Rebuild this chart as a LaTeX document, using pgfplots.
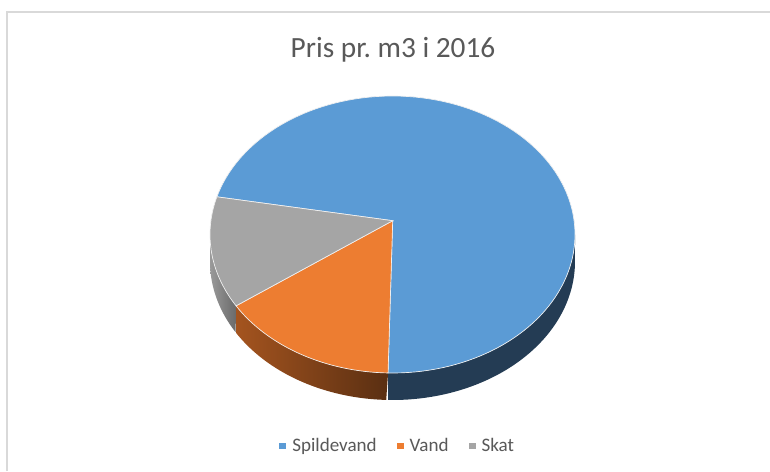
\documentclass[border=0pt]{standalone}
\usepackage{pgfplots}
\pgfplotsset{compat=1.18}
\usepackage{fontspec}
\setmainfont{Carlito}
\frenchspacing
\definecolor{cBlue}{HTML}{5B9BD5}
\definecolor{cOrange}{HTML}{ED7D31}
\definecolor{cGray}{HTML}{A5A5A5}
\definecolor{sBlue}{HTML}{243C54}
\definecolor{sOrangeL}{HTML}{A4541F}
\definecolor{sOrangeD}{HTML}{5A2F12}
\definecolor{sGrayL}{HTML}{9A9A9A}
\definecolor{sGrayD}{HTML}{6A6A6A}
\definecolor{txt}{HTML}{595959}
\definecolor{frm}{HTML}{D9D9D9}

% data (share of price per m3, percent)
\def\vSpild{71}
\def\vVand{16}
\def\vSkat{13}
\pgfmathsetmacro{\tot}{\vSpild+\vVand+\vSkat}
\pgfmathsetmacro{\aA}{164.2}
\pgfmathsetmacro{\aB}{\aA-\vSpild/\tot*360}
\pgfmathsetmacro{\aC}{\aB-\vVand/\tot*360}
\pgfmathsetmacro{\aD}{\aC-\vSkat/\tot*360}
\def\cx{392.5}\def\cy{234.5}\def\rx{182.5}\def\ry{138.5}\def\dep{27}
\def\px{392.7}\def\py{220.7}
% side wall between angles #1 and #2: s in [0,1] top arc, s in [1,2] bottom arc back
\newcommand{\sideX}[2]{{\cx+\rx*cos(s<=1 ? (#1+(#2-#1)*s) : (#2+(#1-#2)*(s-1)))}}
\newcommand{\sideY}[2]{{\cy-\ry*sin(s<=1 ? (#1+(#2-#1)*s) : (#2+(#1-#2)*(s-1))) + (s<=1 ? 0 : \dep)}}

\begin{document}
\begin{tikzpicture}
\fill[white] (0,0) rectangle (577.5pt,353.25pt);
\begin{axis}[
  at={(0,0)}, anchor=south west,
  scale only axis, width=577.5pt, height=353.25pt,
  xmin=0, xmax=770, ymin=0, ymax=471, y dir=reverse,
  hide axis, clip=false,
  samples=120,
  legend style={at={(0.5169,0.0531)}, anchor=center, draw=none, fill=none,
    legend columns=-1, font=\fontsize{14.3}{17}\selectfont, text=txt,
    /tikz/every even column/.append style={column sep=13pt},
    /tikz/every odd column/.append style={column sep=2.5pt}},
  legend image code/.code={\fill[#1] (-2.6pt,-2.6pt) rectangle (2.6pt,2.6pt);},
]
\draw[frm, line width=1.4pt] (axis cs:7,471) -- (axis cs:7,12) -- (axis cs:770,12);

% side walls
\addplot[left color=sGrayL, right color=sGrayD, draw=none, domain=0:2, samples=201, variable=s, forget plot]
  (\sideX{-180}{\aC},\sideY{-180}{\aC}) -- cycle;
\addplot[left color=sOrangeL, right color=sOrangeD, draw=none, domain=0:2, samples=201, variable=s, forget plot]
  (\sideX{\aC}{\aB},\sideY{\aC}{\aB}) -- cycle;
\addplot[fill=sBlue, draw=none, domain=0:2, samples=201, variable=s, forget plot]
  (\sideX{\aB}{0},\sideY{\aB}{0}) -- cycle;

% top faces
\addplot[fill=cBlue, draw=white!88!gray, line width=0.5pt, domain=\aB:\aA, variable=\t, forget plot]
  ({\cx+\rx*cos(t)},{\cy-\ry*sin(t)}) -- (axis cs:\px,\py) -- cycle;
\addplot[fill=cOrange, draw=white!88!gray, line width=0.5pt, domain=\aC:\aB, variable=\t, forget plot]
  ({\cx+\rx*cos(t)},{\cy-\ry*sin(t)}) -- (axis cs:\px,\py) -- cycle;
\addplot[fill=cGray, draw=white!88!gray, line width=0.5pt, domain=\aD:\aC, variable=\t, forget plot]
  ({\cx+\rx*cos(t)},{\cy-\ry*sin(t)}) -- (axis cs:\px,\py) -- cycle;

\node[text=txt, font=\fontsize{22}{26}\selectfont, anchor=base] at (axis cs:393,57) {Pris pr. m3 i 2016};

\addlegendimage{fill=cBlue, draw=none}
\addlegendentry{Spildevand}
\addlegendimage{fill=cOrange, draw=none}
\addlegendentry{Vand}
\addlegendimage{fill=cGray, draw=none}
\addlegendentry{Skat}
\end{axis}
\pgfresetboundingbox
\path (0,0) rectangle (577.5pt,353.25pt);
\end{tikzpicture}
\end{document}
